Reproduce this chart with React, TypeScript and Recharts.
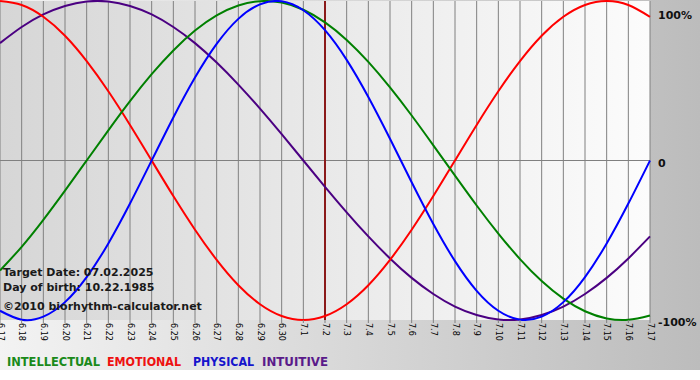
import React from 'react';
import { LineChart, Line, XAxis, YAxis, CartesianGrid, ReferenceLine } from 'recharts';

const DAYS = [
  '6.17', '6.18', '6.19', '6.20', '6.21', '6.22', '6.23', '6.24', '6.25', '6.26', '6.27',
  '6.28', '6.29', '6.30', '7.1', '7.2', '7.3', '7.4', '7.5', '7.6', '7.7', '7.8', '7.9',
  '7.10', '7.11', '7.12', '7.13', '7.14', '7.15', '7.16', '7.17',
];

const INTELLECTUAL = [
  -0.69, -0.541, -0.372, -0.189, 0, 0.189, 0.372, 0.541, 0.69, 0.815, 0.91,
  0.972, 0.999, 0.99, 0.945, 0.866, 0.756, 0.618, 0.458, 0.282, 0.095, -0.095, -0.282,
  -0.458, -0.618, -0.756, -0.866, -0.945, -0.99, -0.999, -0.972,
];

const EMOTIONAL = [
  1, 0.975, 0.901, 0.782, 0.623, 0.434, 0.223, 0, -0.223, -0.434, -0.623,
  -0.782, -0.901, -0.975, -1, -0.975, -0.901, -0.782, -0.623, -0.434, -0.223, 0, 0.223,
  0.434, 0.623, 0.782, 0.901, 0.975, 1, 0.975, 0.901,
];

const PHYSICAL = [
  -0.942, -0.998, -0.979, -0.888, -0.731, -0.52, -0.27, 0, 0.27, 0.52, 0.731,
  0.888, 0.979, 0.998, 0.942, 0.817, 0.631, 0.398, 0.136, -0.136, -0.398, -0.631, -0.817,
  -0.942, -0.998, -0.979, -0.888, -0.731, -0.52, -0.27, 0,
];

const INTUITIVE = [
  0.736, 0.837, 0.916, 0.969, 0.997, 0.997, 0.969, 0.916, 0.837, 0.736, 0.614,
  0.476, 0.325, 0.165, 0, -0.165, -0.325, -0.476, -0.614, -0.736, -0.837, -0.916, -0.969,
  -0.997, -0.997, -0.969, -0.916, -0.837, -0.736, -0.614, -0.476,
];

const TARGET_INDEX = 15;
const PCT_LABELS: Record<number, string> = { 1: '100%', 0: '0', [-1]: '-100%' };

const COLORS = {
  intellectual: '#008000',
  emotional: '#ff0000',
  physical: '#0000ff',
  intuitive: '#4b0082',
};

const data = DAYS.map((label, i) => ({
  i,
  label,
  intellectual: INTELLECTUAL[i],
  emotional: EMOTIONAL[i],
  physical: PHYSICAL[i],
  intuitive: INTUITIVE[i],
}));

const FONT = '"DejaVu Sans", Verdana, sans-serif';

function DayTick({ x, y, payload }: any) {
  return (
    <text
      transform={`translate(${x},${y}) rotate(90)`}
      textAnchor="start"
      dominantBaseline="central"
      fontSize={8}
      fontFamily={FONT}
      fill="#000"
    >
      {DAYS[payload.value]}
    </text>
  );
}

function PctTick({ x, y, payload }: any) {
  const dy = payload.value === 1 ? 10 : 6;
  return (
    <text x={x} y={y + dy} textAnchor="start" fontSize={11} fontWeight="bold" fontFamily={FONT} fill="#111">
      {PCT_LABELS[payload.value]}
    </text>
  );
}

export default function App() {
  return (
    <div
      style={{
        position: 'absolute',
        left: 0,
        top: 0,
        width: 700,
        height: 370,
        background: 'linear-gradient(to right, #f3f3f3, #bcbcbc)',
      }}
    >
      <LineChart width={700} height={370} data={data} margin={{ top: 1, right: 0, left: 0, bottom: 0 }}>
        <defs>
          <linearGradient id="plotBg" x1="0" y1="0" x2="1" y2="0">
            <stop offset="0%" stopColor="#d6d6d6" />
            <stop offset="100%" stopColor="#fcfcfc" />
          </linearGradient>
        </defs>
        <CartesianGrid fill="url(#plotBg)" horizontal={false} stroke="#808080" strokeOpacity={1} />
        <XAxis
          dataKey="i"
          type="number"
          domain={[0, 30]}
          ticks={DAYS.map((_, i) => i)}
          interval={0}
          tick={<DayTick />}
          tickSize={3}
          tickMargin={0}
          tickLine={{ stroke: '#808080' }}
          axisLine={false}
          height={50}
        />
        <YAxis
          orientation="right"
          domain={[-1, 1]}
          ticks={[-1, 0, 1]}
          tick={<PctTick />}
          tickSize={0}
          tickMargin={8}
          tickLine={false}
          axisLine={false}
          width={50}
        />
        <ReferenceLine y={0} stroke="#808080" />
        <ReferenceLine x={TARGET_INDEX} stroke="#8b1a1a" strokeWidth={2} />
        <Line type="natural" dataKey="intuitive" stroke={COLORS.intuitive} strokeWidth={2} dot={false} isAnimationActive={false} />
        <Line type="natural" dataKey="emotional" stroke={COLORS.emotional} strokeWidth={2} dot={false} isAnimationActive={false} />
        <Line type="natural" dataKey="intellectual" stroke={COLORS.intellectual} strokeWidth={2} dot={false} isAnimationActive={false} />
        <Line type="natural" dataKey="physical" stroke={COLORS.physical} strokeWidth={2} dot={false} isAnimationActive={false} />
      </LineChart>

      {/* overlay texts + legend */}
      <svg width={700} height={370} style={{ position: 'absolute', left: 0, top: 0, pointerEvents: 'none' }}>
        <g fontFamily={FONT} fontWeight="bold" fill="#1a1a1a">
          <text x={3} y={276} fontSize={11}>Target Date: 07.02.2025</text>
          <text x={3} y={291} fontSize={11}>Day of birth: 10.22.1985</text>
          <text x={3} y={310} fontSize={11}>©2010 biorhythm-calculator.net</text>
        </g>
        <g fontFamily={'"DejaVu Sans Condensed", "DejaVu Sans", sans-serif'} fontWeight="bold" fontSize={12}>
          <text x={7} y={366} fill="#1a8a1a" textLength={93} lengthAdjust="spacingAndGlyphs">INTELLECTUAL</text>
          <text x={107} y={366} fill="#ee1111" textLength={74} lengthAdjust="spacingAndGlyphs">EMOTIONAL</text>
          <text x={193} y={366} fill="#1515cc" textLength={61} lengthAdjust="spacingAndGlyphs">PHYSICAL</text>
          <text x={262} y={366} fill="#5a1a8a" textLength={66} lengthAdjust="spacingAndGlyphs">INTUITIVE</text>
        </g>
      </svg>
    </div>
  );
}
